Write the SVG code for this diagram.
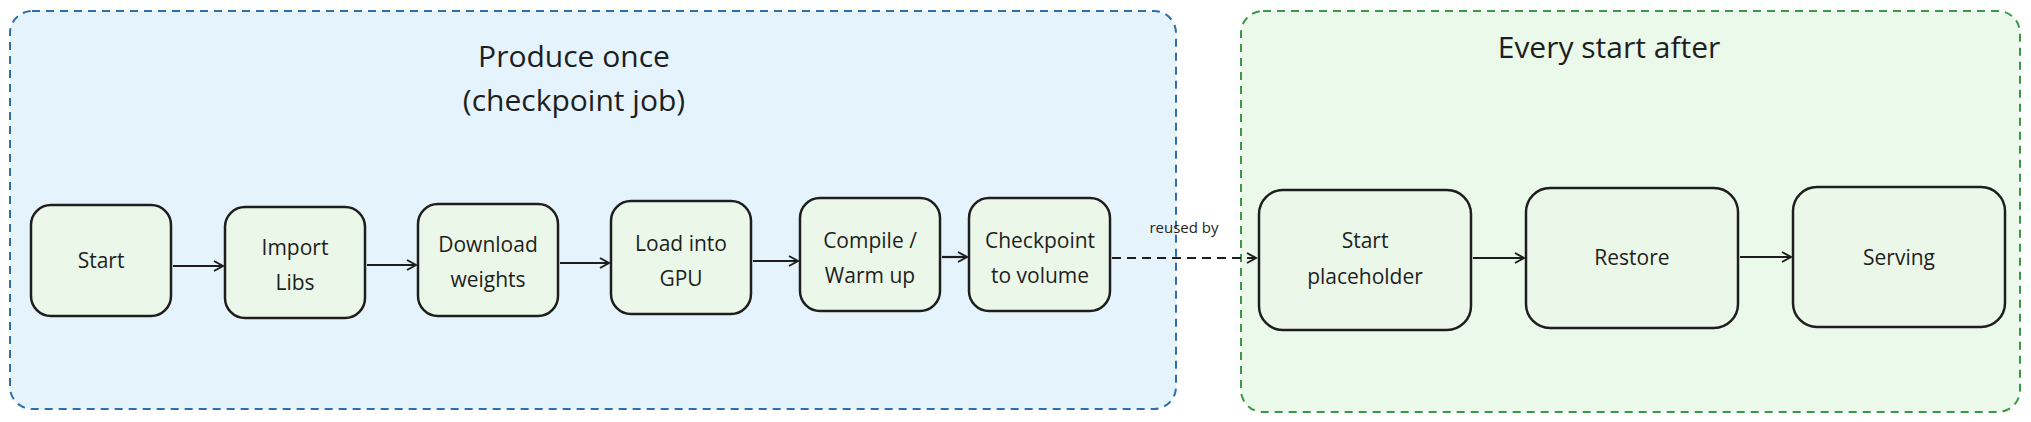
<svg xmlns="http://www.w3.org/2000/svg" width="2031" height="422" viewBox="0 0 2031 422">
<style>
text{font-family:"Open Sans","Liberation Sans",sans-serif;fill:#1e1e1e;text-anchor:middle}
.t{font-size:30px}
.n rect{fill:#ebf8e9;stroke:#1e1e1e;stroke-width:2.5}
.n text{font-size:21px}
.c line{stroke:#1e1e1e;stroke-width:2.2}
</style>
<defs><marker id="a" markerWidth="12" markerHeight="12" refX="10" refY="6" orient="auto" markerUnits="userSpaceOnUse"><path d="M1,1 L10,6 L1,11" fill="none" stroke="#1e1e1e" stroke-width="2"/></marker></defs>
<g id="panel-produce"><rect x="10" y="11" width="1166" height="398" rx="22" fill="#e5f3fd" stroke="#2f6ead" stroke-width="2" stroke-dasharray="8 6"/>
<text class="t" x="574" y="67">Produce once</text><text class="t" x="574" y="111">(checkpoint job)</text></g>
<g id="panel-after"><rect x="1241" y="11" width="779" height="401" rx="22" fill="#ebf9ea" stroke="#3a9a44" stroke-width="2" stroke-dasharray="8 6"/>
<text class="t" x="1609" y="58">Every start after</text></g>
<g id="start" class="n"><rect x="31" y="205" width="140" height="111" rx="20"/><text x="101" y="268">Start</text></g>
<g id="import" class="n"><rect x="225" y="207" width="140" height="111" rx="20"/><text x="295" y="255">Import</text><text x="295" y="290">Libs</text></g>
<g id="download" class="n"><rect x="418" y="204" width="140" height="112" rx="20"/><text x="488" y="252">Download</text><text x="488" y="287">weights</text></g>
<g id="load" class="n"><rect x="611" y="201" width="140" height="113" rx="20"/><text x="681" y="251">Load into</text><text x="681" y="286">GPU</text></g>
<g id="compile" class="n"><rect x="800" y="198" width="140" height="113" rx="20"/><text x="870" y="248">Compile /</text><text x="870" y="283">Warm up</text></g>
<g id="checkpoint" class="n"><rect x="969" y="198" width="141" height="113" rx="20"/><text x="1040" y="248">Checkpoint</text><text x="1040" y="283">to volume</text></g>
<g id="placeholder" class="n"><rect x="1259" y="190" width="212" height="140" rx="24"/><text x="1365" y="248">Start</text><text x="1365" y="284">placeholder</text></g>
<g id="restore" class="n"><rect x="1526" y="188" width="212" height="140" rx="24"/><text x="1632" y="265">Restore</text></g>
<g id="serving" class="n"><rect x="1793" y="187" width="212" height="140" rx="24"/><text x="1899" y="265">Serving</text></g>
<g id="connectors" class="c">
<line x1="173" y1="266" x2="223" y2="266" marker-end="url(#a)"/>
<line x1="367" y1="265" x2="416" y2="265" marker-end="url(#a)"/>
<line x1="560" y1="263" x2="609" y2="263" marker-end="url(#a)"/>
<line x1="753" y1="261" x2="798" y2="261" marker-end="url(#a)"/>
<line x1="942" y1="257" x2="967" y2="257" marker-end="url(#a)"/>
<line x1="1112" y1="258" x2="1256" y2="258" stroke-dasharray="9 6" marker-end="url(#a)"/>
<line x1="1473" y1="258" x2="1524" y2="258" marker-end="url(#a)"/>
<line x1="1740" y1="257" x2="1791" y2="257" marker-end="url(#a)"/>
<text x="1184" y="233" style="font-size:15px">reused by</text>
</g>
</svg>
